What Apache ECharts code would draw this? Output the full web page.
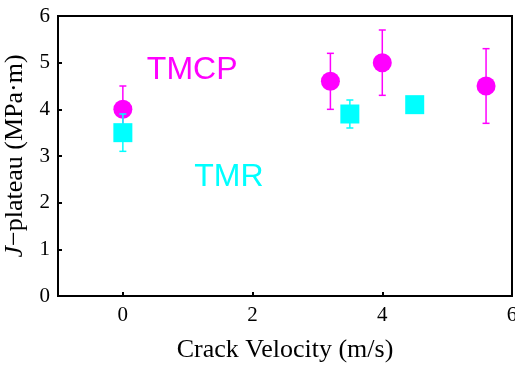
<!DOCTYPE html>
<html><head><meta charset="utf-8">
<script src="https://cdn.jsdelivr.net/npm/echarts@6/dist/echarts.min.js"></script>
<style>html,body{margin:0;padding:0;background:#fff}#c{width:515px;height:365px}</style>
</head><body><div id="c"></div>
<script>
// Data
const tmcpX = [0, 3.2, 4.0, 5.6];
const tmcpY = [4.0, 4.6, 5.0, 4.5];
const tmcpErr = [0.5, 0.6, 0.7, 0.8];
const tmrX = [0, 3.5, 4.5];
const tmrY = [3.5, 3.9, 4.1];
const tmrErr = [0.4, 0.3, 0.1];
const xTicks = [0, 2, 4, 6];
const labels = [
  {text: 'TMCP', x: 0.37, y: 4.84, color: '#ff00ff'},
  {text: 'TMR', x: 1.1, y: 2.55, color: '#00ffff'}
];

const serif = '"Liberation Serif","Times New Roman",serif';
const chart = echarts.init(document.getElementById('c'));

function pts(xs, ys, es) { return xs.map((x, i) => [x, ys[i], es ? es[i] : 0]); }

function errSeries(data, color, z) {
  return {
    type: 'custom', z: z, silent: true,
    data: data,
    renderItem: function (params, api) {
      const x = api.value(0), y = api.value(1), e = api.value(2);
      const top = api.coord([x, y + e]);
      const bot = api.coord([x, y - e]);
      const w = 3.5;
      const style = {stroke: color, lineWidth: 1.5};
      return {
        type: 'group',
        children: [
          {type: 'line', shape: {x1: top[0], y1: top[1], x2: bot[0], y2: bot[1]}, style: style},
          {type: 'line', shape: {x1: top[0] - w, y1: top[1], x2: top[0] + w, y2: top[1]}, style: style},
          {type: 'line', shape: {x1: bot[0] - w, y1: bot[1], x2: bot[0] + w, y2: bot[1]}, style: style}
        ]
      };
    }
  };
}

chart.setOption({
  animation: false,
  grid: {left: 58, right: 3, top: 16, bottom: 69, outerBoundsMode: 'none', containLabel: false,
    show: true, borderColor: '#000', borderWidth: 2},
  xAxis: {
    type: 'value', min: -1, max: 6,
    name: 'Crack Velocity (m/s)', nameLocation: 'middle', nameGap: 41,
    nameTextStyle: {fontFamily: serif, fontSize: 26, color: '#000'},
    axisLine: {show: true, onZero: false, lineStyle: {color: '#000', width: 2}},
    axisTick: {show: true, inside: true, length: 4, customValues: xTicks, lineStyle: {color: '#000', width: 2}},
    axisLabel: {customValues: xTicks, fontFamily: serif, fontSize: 21, color: '#000', margin: 9},
    splitLine: {show: false}
  },
  yAxis: {
    type: 'value', min: 0, max: 6, interval: 1,
    name: '{i|J}−plateau (MPa·m)', nameLocation: 'middle', nameGap: 26,
    nameTextStyle: {fontFamily: serif, fontSize: 26, color: '#000',
      rich: {i: {fontFamily: serif, fontSize: 26, fontStyle: 'italic', color: '#000'}}},
    axisLine: {show: true, onZero: false, lineStyle: {color: '#000', width: 2}},
    axisTick: {show: true, inside: true, length: 4, lineStyle: {color: '#000', width: 2}},
    axisLabel: {fontFamily: serif, fontSize: 21, color: '#000', margin: 8},
    splitLine: {show: false}
  },
  series: [
    errSeries(pts(tmcpX, tmcpY, tmcpErr), '#ff00ff', 2),
    {type: 'scatter', z: 3, symbol: 'circle', symbolSize: 19,
      itemStyle: {color: '#ff00ff', opacity: 1}, data: pts(tmcpX, tmcpY)},
    errSeries(pts(tmrX, tmrY, tmrErr), '#00ffff', 4),
    {type: 'scatter', z: 5, symbol: 'rect', symbolSize: 19,
      itemStyle: {color: '#00ffff', opacity: 1}, data: pts(tmrX, tmrY)}
  ]
});

chart.setOption({
  graphic: labels.map(l => {
    const p = chart.convertToPixel({gridIndex: 0}, [l.x, l.y]);
    return {type: 'text', x: p[0], y: p[1], z: 10,
      style: {text: l.text, fill: l.color, fontFamily: '"Liberation Sans",Arial,sans-serif', fontSize: 32,
        verticalAlign: 'middle', align: 'left'}};
  })
});
</script></body></html>
